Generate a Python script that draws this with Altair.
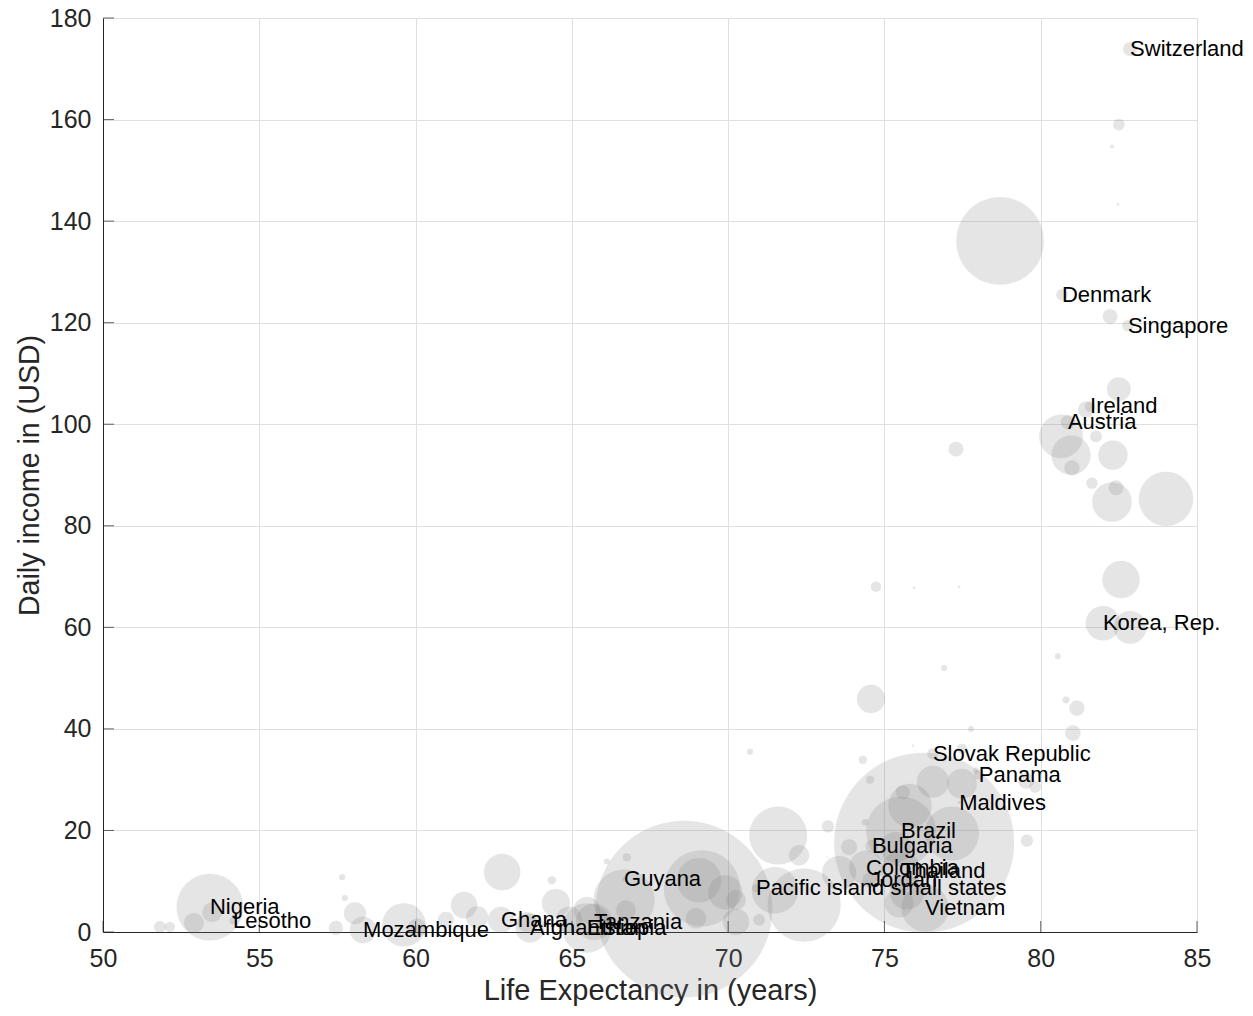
import altair as alt
import pandas as pd

# ---- data ----
named = [
    "Switzerland", "Denmark", "Singapore", "Ireland", "Austria", "Korea, Rep.",
    "Slovak Republic", "Panama", "Maldives", "Brazil", "Bulgaria", "Colombia",
    "Thailand", "Jordan", "Pacific island small states", "Vietnam", "Guyana",
    "Tanzania", "Ethiopia", "Afghanistan", "Ghana", "Mozambique", "Nigeria", "Lesotho",
]

life_exp = [
    82.86, 80.68, 82.79, 81.58, 80.87, 81.99,
    76.55, 78.02, 77.39, 75.53, 74.60, 74.41,
    75.53, 74.54, 70.89, 76.30, 66.67,
    65.71, 65.48, 63.66, 62.73, 58.32, 53.42, 54.16,
    82.50, 82.28, 82.47, 78.70, 82.22, 82.50, 81.45, 80.65, 80.97, 81.00,
    81.77, 82.31, 81.64, 82.28, 82.41, 84.01, 77.29, 82.57, 82.86, 74.73,
    75.95, 77.39, 80.55, 76.91, 80.81, 81.16, 81.03, 74.57, 77.77, 70.70,
    75.91, 74.31, 77.48, 74.54, 76.55, 77.48, 75.59, 75.82, 77.16, 76.27,
    71.60, 72.27, 73.19, 74.38, 73.87, 79.56, 79.53, 79.82, 77.93, 73.16,
    68.59, 69.16, 69.07, 69.91, 68.97, 70.25, 70.99, 66.76, 66.12, 66.67,
    66.73, 65.48, 64.91, 64.49, 64.36, 62.77, 61.55, 61.97, 60.97, 63.56,
    59.63, 60.05, 57.65, 57.74, 58.06, 57.45, 53.49, 52.91, 51.82, 52.14,
    71.50, 72.43, 73.55, 75.37, 75.72, 75.47, 70.25,
]

income = [
    173.9, 125.5, 119.4, 103.5, 100.4, 60.8,
    35.1, 31.0, 25.5, 19.8, 16.9, 12.7,
    12.0, 10.2, 8.6, 4.7, 10.4,
    2.0, 0.8, 0.8, 2.4, 0.4, 4.9, 2.2,
    159.0, 154.7, 143.3, 136.1, 121.2, 106.9, 102.9, 97.6, 93.9, 91.4,
    97.6, 93.9, 88.4, 84.7, 87.5, 85.3, 95.1, 69.4, 60.0, 68.0,
    67.8, 68.0, 54.3, 52.0, 45.7, 44.1, 39.2, 45.9, 40.0, 35.5,
    36.7, 33.9, 36.1, 30.0, 29.6, 29.2, 27.5, 24.9, 19.4, 17.6,
    19.0, 15.1, 20.8, 21.6, 16.7, 18.0, 29.8, 28.6, 31.8, 14.7,
    4.5, 8.6, 10.2, 7.8, 2.7, 2.0, 2.4, 14.7, 13.9, 6.3,
    4.3, 4.3, 2.4, 5.7, 10.2, 11.8, 5.3, 2.9, 2.4, 2.0,
    1.4, 0.8, 10.8, 6.7, 3.7, 0.8, 3.9, 1.8, 1.0, 1.0,
    8.2, 5.3, 11.6, 16.7, 7.8, 5.7, 6.3,
]

population = [
    8.5, 5.8, 5.6, 4.8, 8.8, 51,
    5.4, 4.1, 0.4, 209, 7.1, 49,
    69, 10, 2.4, 95, 0.8,
    57, 105, 36, 29, 30, 191, 2.2,
    5.7, 0.6, 0.3, 330, 9.4, 24, 11, 82, 66, 10,
    6, 37, 5.5, 67, 9.5, 127, 9.5, 60, 46, 4.5,
    0.3, 0.3, 1.5, 1.5, 2, 10, 10.5, 34, 1.5, 1.5,
    0.2, 2.8, 4.4, 2.8, 44, 38, 8.6, 81, 126, 1390,
    144, 18, 6.3, 2, 11, 6.3, 11, 6, 1.5, 0.1,
    1339, 250, 85, 50, 18, 30, 6, 2.8, 1.5, 160,
    17, 30, 30, 34, 2.8, 57, 30, 21, 11, 17,
    81, 15, 1.6, 1.6, 21, 8.6, 17, 17, 6, 4.5,
    93, 230, 50, 40, 50, 35, 17,
]

labels = named + [""] * (len(life_exp) - len(named))

x_ticks = [50, 55, 60, 65, 70, 75, 80, 85]
y_ticks = [0, 20, 40, 60, 80, 100, 120, 140, 160, 180]

df = pd.DataFrame({"label": labels, "life": life_exp, "income": income, "pop": population})
df_lab = df[df["label"] != ""]

FONT = "Liberation Sans"
AX = "#262626"
W, H = 1094, 914

xs = alt.Scale(domain=[50, 85], nice=False, zero=False)
ys = alt.Scale(domain=[0, 180], nice=False, zero=False)

x_axis = alt.Axis(values=x_ticks, title="Life Expectancy in (years)", grid=True,
                  gridColor="#dfdfdf", gridWidth=1, domainColor=AX, domainWidth=1,
                  ticks=False, labelFontSize=25, labelColor=AX, labelFont=FONT,
                  labelPadding=14, labelFlush=False, labelOverlap=False,
                  titleFontSize=29, titleFont=FONT, titleColor=AX,
                  titleFontWeight="normal", titlePadding=5)
y_axis = alt.Axis(values=y_ticks, title="Daily income in (USD)", grid=True,
                  gridColor="#dfdfdf", gridWidth=1, domainColor=AX, domainWidth=1,
                  ticks=False, labelFontSize=25, labelColor=AX, labelFont=FONT,
                  labelPadding=12, labelFlush=False, labelOverlap=False,
                  titleFontSize=28.6, titleFont=FONT, titleColor=AX,
                  titleFontWeight="normal", titlePadding=5)

bubbles = alt.Chart(df).mark_circle(color="#808080", opacity=0.2, stroke="#808080",
                                    strokeOpacity=0.08, strokeWidth=1).encode(
    x=alt.X("life:Q", scale=xs, axis=x_axis),
    y=alt.Y("income:Q", scale=ys, axis=y_axis),
    size=alt.Size("pop:Q", scale=alt.Scale(domain=[0, 1400], range=[0, 32600]), legend=None),
)

texts = alt.Chart(df_lab).mark_text(align="left", baseline="middle", fontSize=22,
                                    font=FONT, color="#000000").encode(
    x=alt.X("life:Q", scale=xs),
    y=alt.Y("income:Q", scale=ys),
    text="label:N",
)

yt = alt.Chart(pd.DataFrame({"v": y_ticks})).mark_tick(
    orient="horizontal", color=AX, thickness=1, size=11).encode(
    y=alt.Y("v:Q", scale=ys), x=alt.value(5.5))
xt = alt.Chart(pd.DataFrame({"v": x_ticks})).mark_tick(
    orient="vertical", color=AX, thickness=1, size=11).encode(
    x=alt.X("v:Q", scale=xs), y=alt.value(H - 5.5))

chart = alt.layer(bubbles, yt, xt, texts).properties(
    width=W, height=H,
    title=alt.TitleParams(
        "World Population Scatter Plot of daily income and life expectancy (World Bank Data 2017)",
        fontSize=28.6, font=FONT, fontWeight="bold", color="#000000",
        anchor="middle", frame="group", baseline="alphabetic", offset=-11),
    autosize=alt.AutoSizeParams(type="none"),
    padding={"left": 95, "top": 10, "right": 48, "bottom": 76},
).configure_view(stroke=None)

chart.save("out.html", embed_options={"renderer": "svg", "actions": False})
